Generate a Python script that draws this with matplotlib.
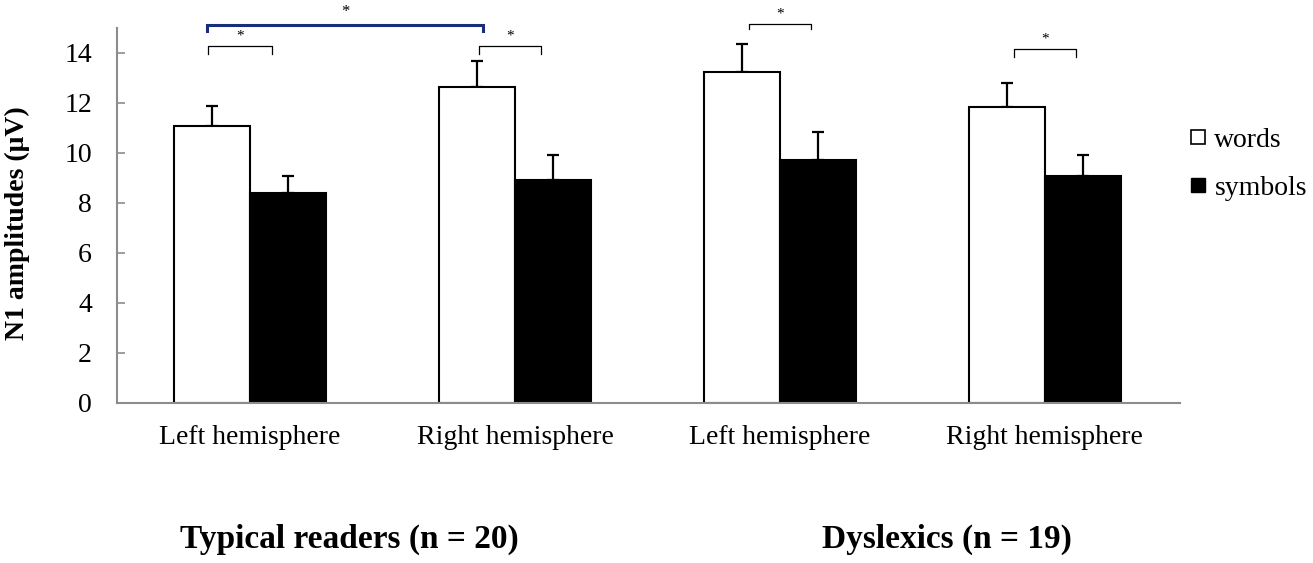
import matplotlib
matplotlib.use("Agg")
import matplotlib.pyplot as plt
from matplotlib.lines import Line2D
import numpy as np

plt.rcParams['font.family'] = ['Liberation Serif', 'DejaVu Serif']

# ---- data ----
categories = ["Left hemisphere", "Right hemisphere", "Left hemisphere", "Right hemisphere"]
groups = ["Typical readers (n = 20)", "Dyslexics (n = 19)"]
words = [11.10, 12.66, 13.25, 11.85]
words_err = [0.79, 1.03, 1.11, 0.97]
symbols = [8.42, 8.92, 9.72, 9.08]
symbols_err = [0.66, 1.01, 1.12, 0.83]
yticks = [0, 2, 4, 6, 8, 10, 12, 14]

# significance brackets: (x_left, x_right), (y_bar, y_end)
brackets_x = [(-0.16, 0.083), (0.864, 1.098), (1.883, 2.117), (2.883, 3.117)]
brackets_y = [(14.28, 13.96), (14.28, 13.96), (15.17, 14.96), (14.16, 13.84)]
blue_bracket_x = (-0.162, 0.88)
blue_bracket_y = (15.13, 14.88)
star = "*"

# ---- figure ----
fig = plt.figure(figsize=(13.13, 5.63), dpi=100)
ax = fig.add_axes([117/1313, 1-403/563, (1180-117)/1313, 375/563])

x = np.arange(len(categories))
w = 0.287
ax.bar(x - w/2, words, width=w, color='white', edgecolor='black', linewidth=1.5, zorder=2)
ax.bar(x + w/2, symbols, width=w, color='black', edgecolor='black', linewidth=1.5, zorder=2)
ax.errorbar(x - w/2, words, yerr=[np.zeros(len(words)), words_err], fmt='none',
            ecolor='black', elinewidth=1.6, capsize=4.5, capthick=1.6, zorder=1)
ax.errorbar(x + w/2, symbols, yerr=[np.zeros(len(symbols)), symbols_err], fmt='none',
            ecolor='black', elinewidth=1.6, capsize=4.5, capthick=1.6, zorder=1)

for (xl, xr), (yb, ye) in zip(brackets_x, brackets_y):
    ax.plot([xl, xl, xr, xr], [ye, yb, yb, ye], color='black', lw=0.9, clip_on=False)
    ax.text((xl + xr)/2, yb + 0.12, star, ha='center', va='bottom', fontsize=11, clip_on=False)

bl, br = blue_bracket_x
yb, ye = blue_bracket_y
ax.plot([bl, bl, br, br], [ye, yb, yb, ye], color='#1a2c7c', lw=2.2, clip_on=False,
        solid_joinstyle='miter')
ax.text((bl + br)/2, yb + 0.2, star, ha='center', va='bottom', fontsize=12, clip_on=False)

ax.set_xlim(-0.502, 3.51)
ax.set_ylim(0, 15)
ax.set_yticks(yticks)
ax.set_yticklabels([str(t) for t in yticks], fontsize=20)
ax.set_xticks(x)
ax.set_xticklabels(categories, fontsize=20)
ax.tick_params(axis='x', length=0, pad=16)
ax.tick_params(axis='y', direction='in', length=6, width=1.2, color='#8c8c8c', pad=18)
for s in ['top', 'right']:
    ax.spines[s].set_visible(False)
for s in ['left', 'bottom']:
    ax.spines[s].set_color('#8c8c8c')
    ax.spines[s].set_linewidth(1.5)

fig.text(17/1313, 1-223/563, "N1 amplitudes (μV)", rotation=90, ha='center', va='center',
         fontsize=20, fontweight='bold')
fig.text(349/1313, 1-539/563, groups[0], ha='center', va='center', fontsize=24, fontweight='bold')
fig.text(947/1313, 1-539/563, groups[1], ha='center', va='center', fontsize=24, fontweight='bold')

handles = [Line2D([], [], marker='s', linestyle='none', markersize=10.5,
                  markerfacecolor='white', markeredgecolor='black', markeredgewidth=1.2),
           Line2D([], [], marker='s', linestyle='none', markersize=10.5,
                  markerfacecolor='black', markeredgecolor='black')]
fig.legend(handles, ["words", "symbols"], loc='center left',
           bbox_to_anchor=(1188/1313, 1-164/563), frameon=False, fontsize=20,
           handlelength=0.7, handletextpad=0.25, labelspacing=0.8, borderpad=0, borderaxespad=0)

fig.savefig("out.png", dpi=100)
